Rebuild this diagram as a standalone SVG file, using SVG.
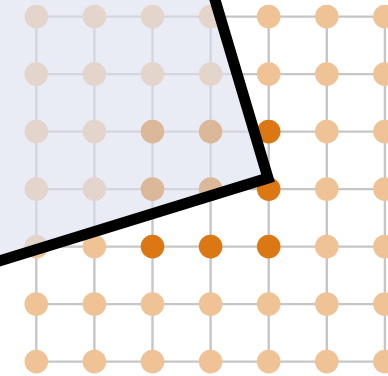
<svg xmlns="http://www.w3.org/2000/svg" width="388" height="376" viewBox="0 0 388 376">
<style>
.grid line{stroke:#c6c6c6;stroke-width:2.4}
.lt{fill:#f0c396}
.dk{fill:#dc7814}
</style>
<rect width="388" height="376" fill="#ffffff"/>
<g class="grid" id="grid">
<line x1="36.3" y1="16.6" x2="384.9" y2="16.6"/>
<line x1="36.3" y1="74.1" x2="384.9" y2="74.1"/>
<line x1="36.3" y1="131.6" x2="384.9" y2="131.6"/>
<line x1="36.3" y1="189.1" x2="384.9" y2="189.1"/>
<line x1="36.3" y1="246.6" x2="384.9" y2="246.6"/>
<line x1="36.3" y1="304.1" x2="384.9" y2="304.1"/>
<line x1="36.3" y1="361.6" x2="384.9" y2="361.6"/>
<line x1="36.3" y1="16.6" x2="36.3" y2="361.6"/>
<line x1="94.4" y1="16.6" x2="94.4" y2="361.6"/>
<line x1="152.5" y1="16.6" x2="152.5" y2="361.6"/>
<line x1="210.6" y1="16.6" x2="210.6" y2="361.6"/>
<line x1="268.7" y1="16.6" x2="268.7" y2="361.6"/>
<line x1="326.8" y1="16.6" x2="326.8" y2="361.6"/>
<line x1="384.9" y1="16.6" x2="384.9" y2="361.6"/>
</g>
<g id="dots">
<g class="lt">
<circle cx="36.3" cy="16.6" r="11.8"/><circle cx="94.4" cy="16.6" r="11.8"/><circle cx="152.5" cy="16.6" r="11.8"/><circle cx="210.6" cy="16.6" r="11.8"/><circle cx="268.7" cy="16.6" r="11.8"/><circle cx="326.8" cy="16.6" r="11.8"/><circle cx="384.9" cy="16.6" r="11.8"/>
<circle cx="36.3" cy="74.1" r="11.8"/><circle cx="94.4" cy="74.1" r="11.8"/><circle cx="152.5" cy="74.1" r="11.8"/><circle cx="210.6" cy="74.1" r="11.8"/><circle cx="268.7" cy="74.1" r="11.8"/><circle cx="326.8" cy="74.1" r="11.8"/><circle cx="384.9" cy="74.1" r="11.8"/>
<circle cx="36.3" cy="131.6" r="11.8"/><circle cx="94.4" cy="131.6" r="11.8"/><circle cx="326.8" cy="131.6" r="11.8"/><circle cx="384.9" cy="131.6" r="11.8"/>
<circle cx="36.3" cy="189.1" r="11.8"/><circle cx="94.4" cy="189.1" r="11.8"/><circle cx="326.8" cy="189.1" r="11.8"/><circle cx="384.9" cy="189.1" r="11.8"/>
<circle cx="36.3" cy="246.6" r="11.8"/><circle cx="94.4" cy="246.6" r="11.8"/><circle cx="326.8" cy="246.6" r="11.8"/><circle cx="384.9" cy="246.6" r="11.8"/>
<circle cx="36.3" cy="304.1" r="11.8"/><circle cx="94.4" cy="304.1" r="11.8"/><circle cx="152.5" cy="304.1" r="11.8"/><circle cx="210.6" cy="304.1" r="11.8"/><circle cx="268.7" cy="304.1" r="11.8"/><circle cx="326.8" cy="304.1" r="11.8"/><circle cx="384.9" cy="304.1" r="11.8"/>
<circle cx="36.3" cy="361.6" r="11.8"/><circle cx="94.4" cy="361.6" r="11.8"/><circle cx="152.5" cy="361.6" r="11.8"/><circle cx="210.6" cy="361.6" r="11.8"/><circle cx="268.7" cy="361.6" r="11.8"/><circle cx="326.8" cy="361.6" r="11.8"/><circle cx="384.9" cy="361.6" r="11.8"/>
</g>
<g class="dk">
<circle cx="152.5" cy="131.6" r="11.8"/><circle cx="210.6" cy="131.6" r="11.8"/><circle cx="268.7" cy="131.6" r="11.8"/>
<circle cx="152.5" cy="189.1" r="11.8"/><circle cx="210.6" cy="189.1" r="11.8"/><circle cx="268.7" cy="189.1" r="11.8"/>
<circle cx="152.5" cy="246.6" r="11.8"/><circle cx="210.6" cy="246.6" r="11.8"/><circle cx="268.7" cy="246.6" r="11.8"/>
</g>
</g>
<g id="square">
<polygon points="268,178 97,-397 -476,-220 -305,355" fill="#dce0ee" fill-opacity="0.62"/>
<polyline points="97,-397 268,178 -305,355" fill="none" stroke="#000000" stroke-width="11" stroke-linejoin="miter"/>
</g>
</svg>
